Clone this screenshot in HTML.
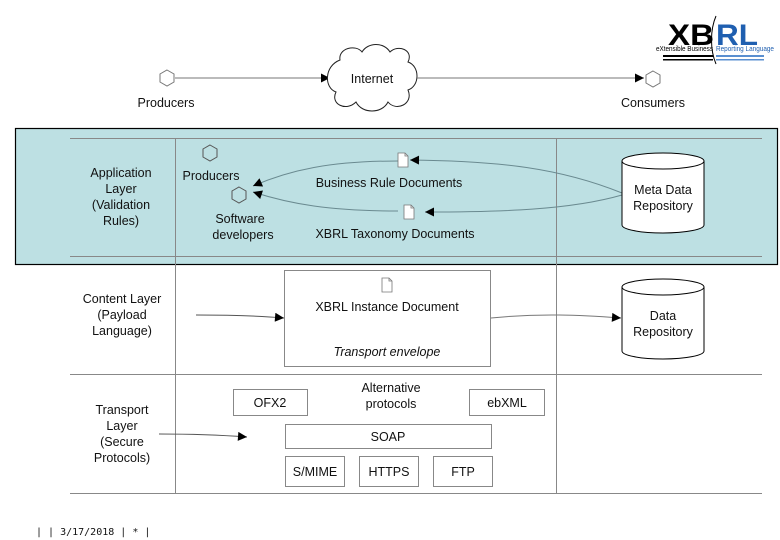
<!DOCTYPE html>
<html><head><meta charset="utf-8"><style>
html,body{margin:0;padding:0;background:#fff;width:780px;height:540px;overflow:hidden}
text{font-family:"Liberation Sans",Arial,sans-serif;font-size:12.5px;fill:#111}
</style></head><body>
<svg width="780" height="540" viewBox="0 0 780 540" xmlns="http://www.w3.org/2000/svg">
<defs>
<marker id="a" viewBox="0 0 10 10" refX="10" refY="5" markerWidth="14" markerHeight="9" orient="auto" markerUnits="userSpaceOnUse"><path d="M0,0 L10,5 L0,10z" fill="#000"/></marker>
<g id="hex"><polygon points="0,-8 7,-4 7,4 0,8 -7,4 -7,-4" fill="#fff" stroke="#777" stroke-width="1"/></g>
<g id="hexT"><polygon points="0,-8 7,-4 7,4 0,8 -7,4 -7,-4" fill="none" stroke="#555" stroke-width="1"/></g>
<g id="doc"><path d="M-5,-7 L2,-7 L5,-4 L5,7 L-5,7z" fill="#fff" stroke="#777" stroke-width="0.8"/><path d="M2,-7 L2,-4 L5,-4" fill="none" stroke="#777" stroke-width="0.8"/></g>
</defs>

<rect x="15.5" y="128.5" width="762" height="136" fill="#bde0e3" stroke="#000" stroke-width="1.2"/>

<g stroke="#888" stroke-width="1">
<line x1="70" y1="138.5" x2="762" y2="138.5"/>
<line x1="70" y1="256.5" x2="762" y2="256.5"/>
<line x1="70" y1="374.5" x2="762" y2="374.5"/>
<line x1="70" y1="493.5" x2="762" y2="493.5"/>
<line x1="175.5" y1="138" x2="175.5" y2="493"/>
<line x1="556.5" y1="138" x2="556.5" y2="493"/>
</g>

<use href="#hex" x="167" y="78"/>
<text x="166" y="107" text-anchor="middle">Producers</text>
<line x1="175" y1="78" x2="330" y2="78" stroke="#777" marker-end="url(#a)"/>
<path d="M340,60 C338,48 356,44 362,52 C368,42 384,42 390,52 C398,44 414,50 408,62 C420,66 420,86 408,90 C414,104 396,112 388,102 C382,114 362,114 356,102 C346,112 330,104 336,92 C324,88 324,66 340,60z" fill="#fff" stroke="#222" stroke-width="1"/>
<text x="372" y="83" text-anchor="middle">Internet</text>
<line x1="417" y1="78" x2="644" y2="78" stroke="#777" marker-end="url(#a)"/>
<use href="#hex" x="653" y="79"/>
<text x="653" y="107" text-anchor="middle">Consumers</text>

<text x="668" y="45" textLength="46" lengthAdjust="spacingAndGlyphs" style="font-size:30px;font-weight:bold;fill:#000">XB</text>
<text x="716" y="45" textLength="42" lengthAdjust="spacingAndGlyphs" style="font-size:30px;font-weight:bold;fill:#1f5fb0">RL</text>
<text x="656" y="51" textLength="57" lengthAdjust="spacingAndGlyphs" style="font-size:7px;fill:#000">eXtensible Business</text>
<text x="716" y="51" textLength="58" lengthAdjust="spacingAndGlyphs" style="font-size:7px;fill:#1f5fb0">Reporting Language</text>
<rect x="663" y="55" width="50" height="2" fill="#000"/><rect x="663" y="59" width="50" height="1.5" fill="#000"/>
<rect x="716" y="55" width="48" height="2" fill="#5a8fd0"/><rect x="716" y="59" width="48" height="1.5" fill="#5a8fd0"/>
<path d="M716,16 C710,30 710,50 716,64" fill="none" stroke="#000" stroke-width="1"/>

<text x="121" y="177" text-anchor="middle">Application</text>
<text x="121" y="193" text-anchor="middle">Layer</text>
<text x="121" y="209" text-anchor="middle">(Validation</text>
<text x="121" y="225" text-anchor="middle">Rules)</text>
<use href="#hexT" x="210" y="153"/>
<text x="211" y="180" text-anchor="middle">Producers</text>
<use href="#hexT" x="239" y="195"/>
<text x="240" y="223" text-anchor="middle">Software</text>
<text x="243" y="239" text-anchor="middle">developers</text>
<path d="M398,161 C330,161 290,170 253,186" fill="none" stroke="#6a8a90" stroke-width="1" marker-end="url(#a)"/>
<path d="M398,211 C330,211 290,204 253,192" fill="none" stroke="#6a8a90" stroke-width="1" marker-end="url(#a)"/>
<use href="#doc" x="403" y="160"/>
<text x="389" y="187" text-anchor="middle">Business Rule Documents</text>
<use href="#doc" x="409" y="212"/>
<text x="395" y="238" text-anchor="middle">XBRL Taxonomy Documents</text>
<path d="M622,193 C560,168 500,161 410,160" fill="none" stroke="#6a8a90" stroke-width="1" marker-end="url(#a)"/>
<path d="M622,195 C570,210 500,212 425,212" fill="none" stroke="#6a8a90" stroke-width="1" marker-end="url(#a)"/>
<path d="M622,161 L622,225 A41,8 0 0 0 704,225 L704,161" fill="#fff" stroke="#000"/>
<ellipse cx="663" cy="161" rx="41" ry="8" fill="#fff" stroke="#000"/>
<text x="663" y="194" text-anchor="middle">Meta Data</text>
<text x="663" y="210" text-anchor="middle">Repository</text>

<text x="122" y="303" text-anchor="middle">Content Layer</text>
<text x="122" y="319" text-anchor="middle">(Payload</text>
<text x="122" y="335" text-anchor="middle">Language)</text>
<path d="M196,315 C230,315 260,316 284,318" fill="none" stroke="#555" marker-end="url(#a)"/>
<rect x="284.5" y="270.5" width="206" height="96" fill="#fff" stroke="#888"/>
<use href="#doc" x="387" y="285"/>
<text x="387" y="311" text-anchor="middle">XBRL Instance Document</text>
<text x="387" y="356" text-anchor="middle" font-style="italic">Transport envelope</text>
<path d="M491,318 C540,313 580,315 621,318" fill="none" stroke="#777" marker-end="url(#a)"/>
<path d="M622,287 L622,351 A41,8 0 0 0 704,351 L704,287" fill="#fff" stroke="#000"/>
<ellipse cx="663" cy="287" rx="41" ry="8" fill="#fff" stroke="#000"/>
<text x="663" y="320" text-anchor="middle">Data</text>
<text x="663" y="336" text-anchor="middle">Repository</text>

<text x="122" y="414" text-anchor="middle">Transport</text>
<text x="122" y="430" text-anchor="middle">Layer</text>
<text x="122" y="446" text-anchor="middle">(Secure</text>
<text x="122" y="462" text-anchor="middle">Protocols)</text>
<path d="M159,434 C190,434 220,435 247,437" fill="none" stroke="#555" marker-end="url(#a)"/>
<g fill="#fff" stroke="#888">
<rect x="233.5" y="389.5" width="74" height="26"/>
<rect x="469.5" y="389.5" width="75" height="26"/>
<rect x="285.5" y="424.5" width="206" height="24"/>
<rect x="285.5" y="456.5" width="59" height="30"/>
<rect x="359.5" y="456.5" width="59" height="30"/>
<rect x="433.5" y="456.5" width="59" height="30"/>
</g>
<text x="270" y="407" text-anchor="middle">OFX2</text>
<text x="391" y="392" text-anchor="middle">Alternative</text>
<text x="391" y="408" text-anchor="middle">protocols</text>
<text x="507" y="407" text-anchor="middle">ebXML</text>
<text x="388" y="441" text-anchor="middle">SOAP</text>
<text x="315" y="476" text-anchor="middle">S/MIME</text>
<text x="389" y="476" text-anchor="middle">HTTPS</text>
<text x="463" y="476" text-anchor="middle">FTP</text>

<text x="36" y="535" style="font-family:'DejaVu Sans Mono','Liberation Mono',monospace;font-size:10px">|  | 3/17/2018 | * |</text>
</svg>
</body></html>
